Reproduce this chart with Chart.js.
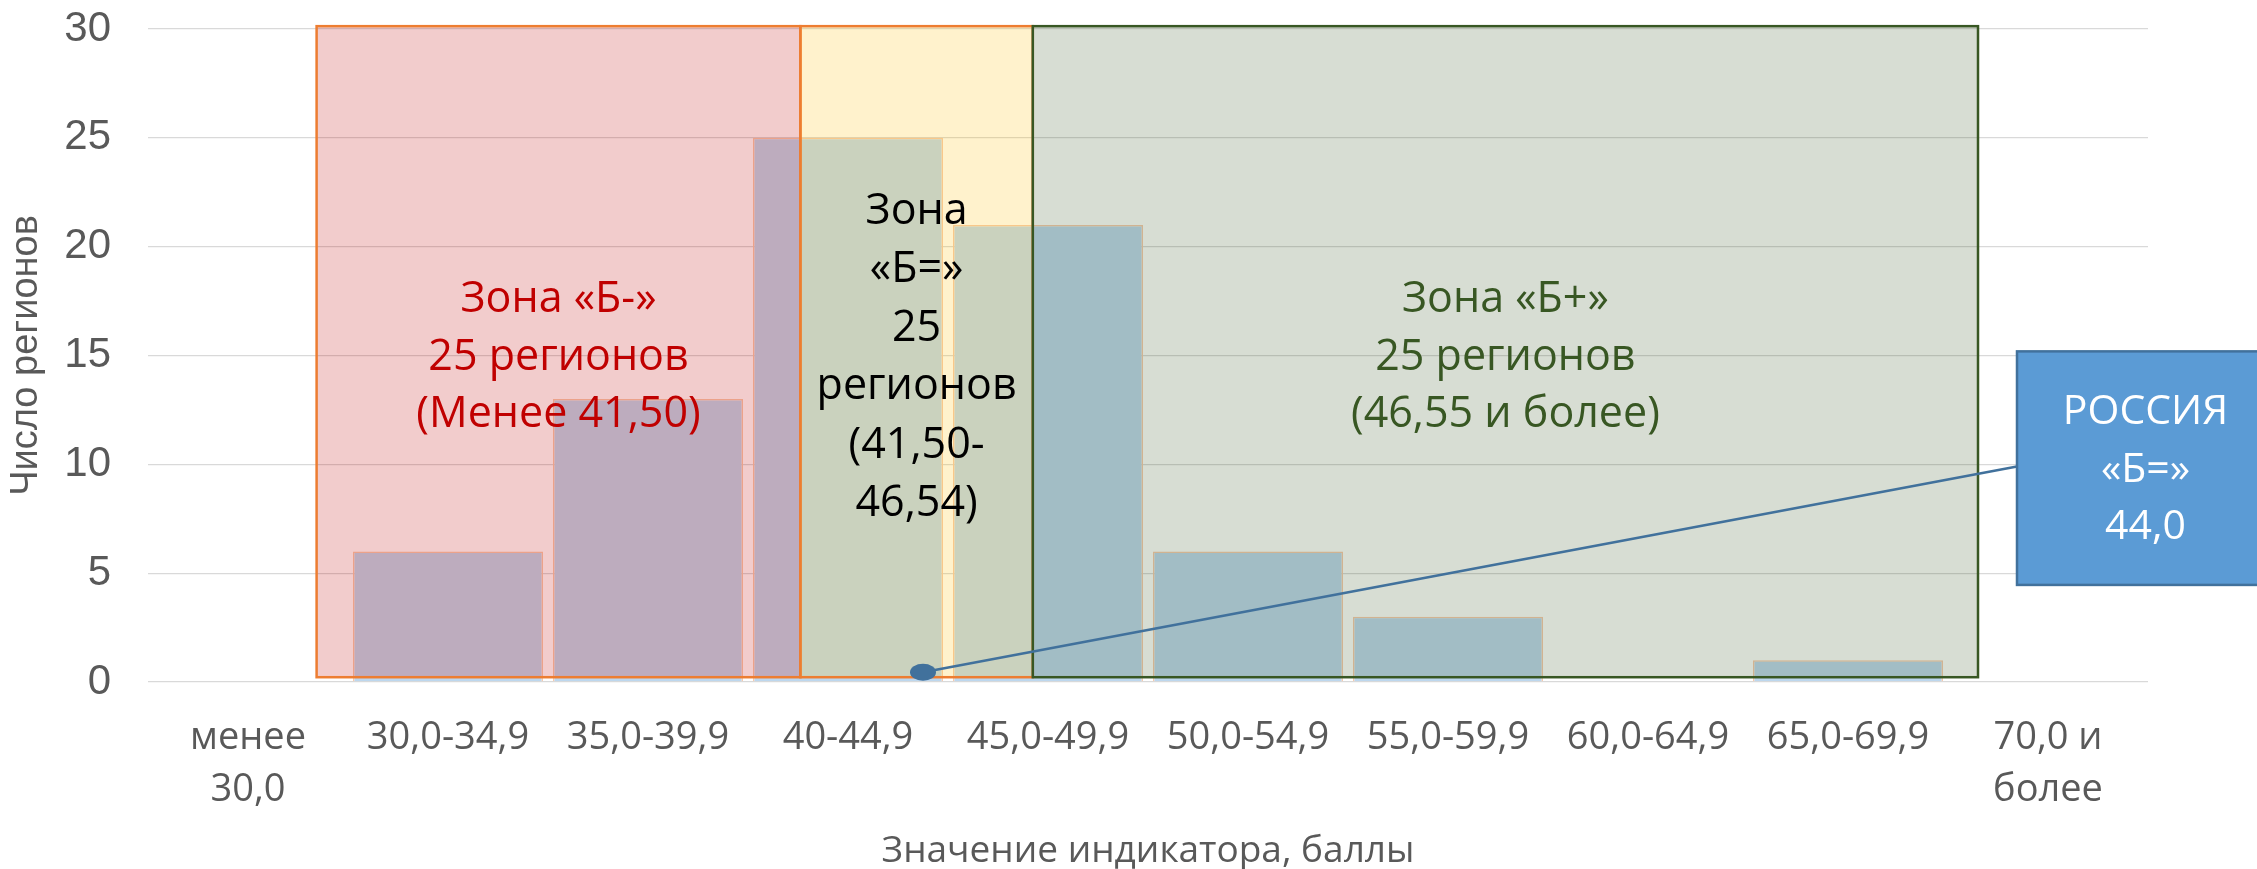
<!DOCTYPE html>
<html>
<head>
<meta charset="utf-8">
<script src="https://cdn.jsdelivr.net/npm/chart.js@4.4.1/dist/chart.umd.min.js"></script>
<style>
  html, body { margin: 0; padding: 0; background: #fff; }
</style>
</head>
<body>
<canvas id="chart" width="2257" height="869"></canvas>
<script>
// data
const categories = [['менее', '30,0'], '30,0-34,9', '35,0-39,9', '40-44,9', '45,0-49,9',
  '50,0-54,9', '55,0-59,9', '60,0-64,9', '65,0-69,9', ['70,0 и', 'более']];
const regionCounts = [0, 6, 13, 25, 21, 6, 3, 0, 1, 0];
const yTicks = [0, 5, 10, 15, 20, 25, 30];

// zones (x in category-index units, y in number of regions)
const zoneFrom = [0.343, 2.762, 3.924];
const zoneTo = [2.762, 3.924, 8.65];
const zoneTop = 30.13, zoneBottom = 0.22, zoneTextAt = 14.9;
const zoneFill = ['#C00000', '#FFC000', '#385723'];
const zoneEdge = ['#ED7D31', '#ED7D31', '#385723'];
const zoneTextColor = ['#C00000', '#000000', '#385723'];
const zoneText = [
  ['Зона «Б-»', '25 регионов', '(Менее 41,50)'],
  ['Зона', '«Б=»', '25', 'регионов', '(41,50-', '46,54)'],
  ['Зона «Б+»', '25 регионов', '(46,55 и более)']
];

// Russia callout
const russiaPoint = [3.375, 0.45];
const russiaBox = { left: 8.845, right: 10.13, top: 15.19, bottom: 4.46 };
const russiaLineEnd = 9.9;
const russiaText = ['РОССИЯ', '«Б=»', '44,0'];

const annotations = {
  id: 'annotations',
  afterDatasetsDraw(chart) {
    const { ctx, scales: { x, y } } = chart;
    ctx.save();
    // zone boxes
    zoneFrom.forEach((from, i) => {
      const l = x.getPixelForValue(from), r = x.getPixelForValue(zoneTo[i]);
      const t = y.getPixelForValue(zoneTop), b = y.getPixelForValue(zoneBottom);
      ctx.globalAlpha = 0.2;
      ctx.fillStyle = zoneFill[i];
      ctx.fillRect(l, t, r - l, b - t);
      ctx.globalAlpha = 1;
      ctx.strokeStyle = zoneEdge[i];
      ctx.lineWidth = 2.5;
      ctx.strokeRect(l, t, r - l, b - t);
    });
    // zone texts
    ctx.font = '43px "Open Sans"';
    ctx.textAlign = 'center';
    ctx.textBaseline = 'middle';
    zoneText.forEach((lines, i) => {
      const cx = (x.getPixelForValue(zoneFrom[i]) + x.getPixelForValue(zoneTo[i])) / 2;
      const cy = y.getPixelForValue(zoneTextAt);
      const step = lines.length > 3 ? 58.5 : 57.5;
      ctx.fillStyle = zoneTextColor[i];
      lines.forEach((s, k) => {
        ctx.fillText(s, cx, cy + (k - (lines.length - 1) / 2) * step);
      });
    });
    // connector + marker
    const px = x.getPixelForValue(russiaPoint[0]), py = y.getPixelForValue(russiaPoint[1]);
    const bl = x.getPixelForValue(russiaBox.left), br = x.getPixelForValue(russiaBox.right);
    const bt = y.getPixelForValue(russiaBox.top), bb = y.getPixelForValue(russiaBox.bottom);
    ctx.strokeStyle = '#41719C';
    ctx.lineWidth = 2.7;
    ctx.beginPath();
    ctx.moveTo(px, py);
    ctx.lineTo(bl, y.getPixelForValue(russiaLineEnd));
    ctx.stroke();
    ctx.fillStyle = '#41719C';
    ctx.beginPath();
    ctx.ellipse(px, py, 13, 8.5, 0, 0, Math.PI * 2);
    ctx.fill();
    // callout box
    ctx.fillStyle = '#5B9BD5';
    ctx.fillRect(bl, bt, br - bl, bb - bt);
    ctx.strokeStyle = '#41719C';
    ctx.lineWidth = 2.5;
    ctx.strokeRect(bl, bt, br - bl, bb - bt);
    ctx.fillStyle = '#FFFFFF';
    ctx.font = '41px "Open Sans"';
    const tx = (bl + br) / 2, ty = (bt + bb) / 2 + 2;
    russiaText.forEach((s, k) => {
      ctx.fillText(s, tx, ty + (k - 1) * 57.5);
    });
    ctx.restore();
  }
};

new Chart(document.getElementById('chart'), {
  type: 'bar',
  data: {
    labels: categories,
    datasets: [{
      data: regionCounts,
      backgroundColor: '#BDD7EE',
      borderColor: '#F8CBAD',
      borderWidth: 1.5,
      barPercentage: 0.95,
      categoryPercentage: 1.0
    }]
  },
  options: {
    responsive: false,
    devicePixelRatio: 1,
    animation: false,
    layout: { padding: { top: 29, right: 109, bottom: 0, left: 0 } },
    plugins: { legend: { display: false }, tooltip: { enabled: false } },
    scales: {
      x: {
        grid: { display: false, drawTicks: false },
        border: { display: false },
        ticks: {
          color: '#595959', padding: 30, maxRotation: 0, autoSkip: false,
          font: { family: 'Open Sans', size: 38, lineHeight: 52 / 38 }
        },
        title: {
          display: true, text: 'Значение индикатора, баллы', color: '#595959',
          font: { family: 'Open Sans', size: 37, lineHeight: 1 },
          padding: { top: 0, bottom: -1 }
        },
        afterFit: s => { s.height = 187; }
      },
      y: {
        min: 0, max: 30,
        grid: { color: '#D9D9D9', lineWidth: 1.3, drawTicks: false },
        border: { display: false },
        afterBuildTicks: s => { s.ticks = yTicks.map(v => ({ value: v })); },
        ticks: {
          color: '#595959', padding: 37,
          font: { family: '"Liberation Sans", Arial, sans-serif', size: 42 }
        },
        title: {
          display: true, text: 'Число регионов', color: '#595959',
          font: { family: '"Liberation Sans", Arial, sans-serif', size: 38, lineHeight: 1 },
          padding: { top: 8, bottom: 0 }
        },
        afterFit: s => { s.width = 148; s.paddingTop = 0; s.paddingBottom = 0; }
      }
    }
  },
  plugins: [annotations]
});
</script>
</body>
</html>
